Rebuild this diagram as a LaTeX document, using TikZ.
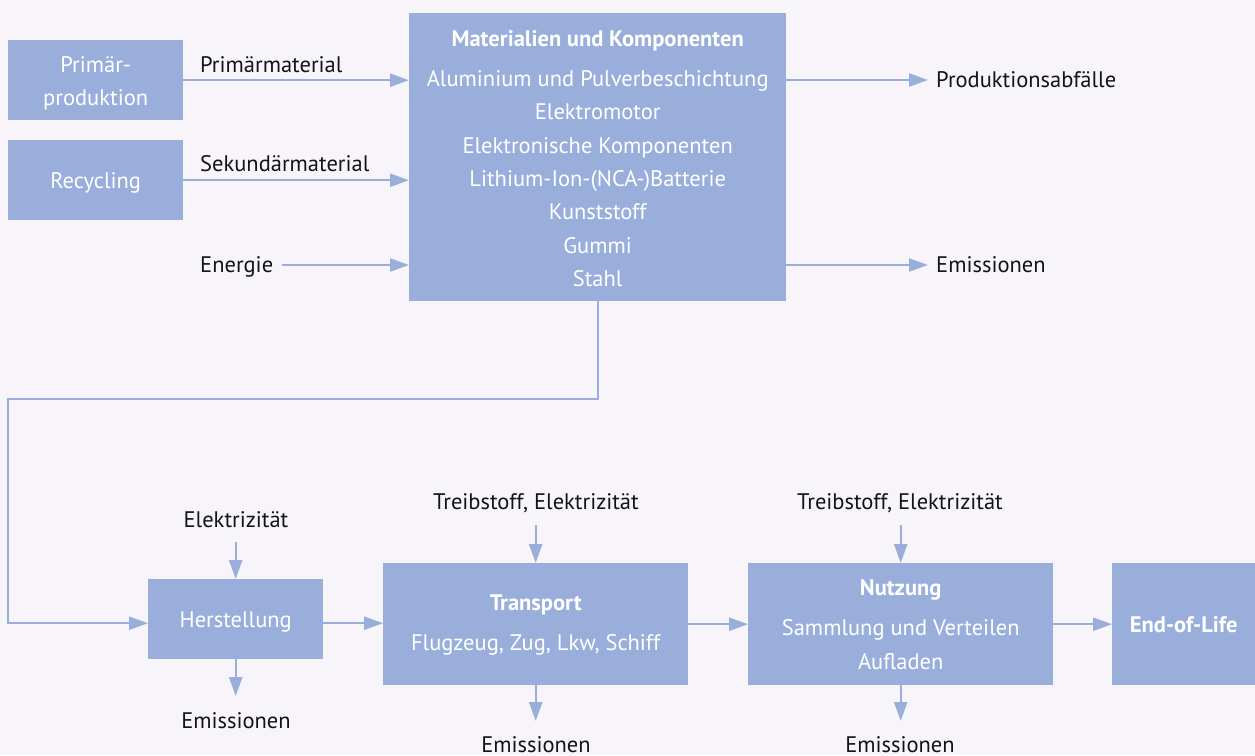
\documentclass[tikz,border=0pt]{standalone}
\usepackage{fontspec}
\setmainfont{PT Sans}
\usetikzlibrary{arrows.meta}
\definecolor{bg}{RGB}{248,245,250}
\definecolor{boxc}{RGB}{153,174,219}
\definecolor{txt}{RGB}{20,20,20}
\tikzset{
  every node/.style={font=\fontsize{22.5}{33.4}\selectfont, inner sep=0pt},
  blk/.style={fill=boxc, anchor=north west},
  btxt/.style={text=white, align=center},
  lbl/.style={text=txt},
  arr/.style={draw=boxc, line width=2.4pt, -{Triangle[length=19pt,width=13pt]}}
}
\begin{document}
\begin{tikzpicture}[x=1pt,y=-1pt]
\fill[bg] (0,0) rectangle (1255,755);
\useasboundingbox (0,0) rectangle (1255,755);
% top boxes
\node[blk, minimum width=175pt, minimum height=80pt,
  label={[btxt,yshift=-3pt]center:{Primär-\\produktion}}] (prim) at (8,40) {};
\node[blk, minimum width=175pt, minimum height=80pt,
  label={[btxt,yshift=-3pt]center:{Recycling}}] (rec) at (8,140) {};
\node[blk, minimum width=377pt, minimum height=288pt,
  label={[btxt,yshift=-1.5pt]center:{\textbf{Materialien und Komponenten}\\[6.6pt]
Aluminium und Pulverbeschichtung\\Elektromotor\\Elektronische Komponenten\\Lithium-Ion-(NCA-)Batterie\\Kunststoff\\Gummi\\Stahl}}] (mat) at (409,13) {};
% labels top
\node[lbl, anchor=base west] (lprim) at (200,72) {Primärmaterial};
\node[lbl, anchor=base west] (lsek) at (200,171) {Sekundärmaterial};
\node[lbl, anchor=base west] (lener) at (200,272) {Energie};
\node[lbl, anchor=west] (labf) at (936,80) {Produktionsabfälle};
\node[lbl, anchor=west] (lem0) at (936,265) {Emissionen};
\draw[arr] (prim.east) -- (prim.east -| mat.west);
\draw[arr] (rec.east) -- (rec.east -| mat.west);
\draw[arr] (282,265) -- (mat.west |- 0,265);
\draw[arr] (mat.east |- labf.west) -- ([xshift=-8pt]labf.west);
\draw[arr] (mat.east |- lem0.west) -- ([xshift=-8pt]lem0.west);
% bottom boxes
\node[blk, minimum width=175pt, minimum height=80pt,
  label={[btxt,yshift=-3pt]center:{Herstellung}}] (herst) at (148,579) {};
\node[blk, minimum width=305pt, minimum height=122pt,
  label={[btxt,yshift=-1pt]center:{\textbf{Transport}\\[6.6pt]Flugzeug, Zug, Lkw, Schiff}}] (trans) at (383,563) {};
\node[blk, minimum width=305pt, minimum height=122pt,
  label={[btxt,yshift=-0.5pt]center:{\textbf{Nutzung}\\[6.6pt]Sammlung und Verteilen\\Aufladen}}] (nutz) at (748,563) {};
\node[blk, minimum width=143pt, minimum height=122pt,
  label={[btxt]center:{\textbf{End-of-Life}}}] (eol) at (1112,563) {};
% connector from materials
\coordinate (c1) at (8,399);
\draw[arr] (mat.south) |- (c1) |- ([yshift=-4pt]herst.west);
\draw[arr] ([yshift=-4pt]herst.east) -- ([yshift=-4pt]herst.east -| trans.west);
\draw[arr] (trans.east) -- (nutz.west);
\draw[arr] (nutz.east) -- (eol.west);
% inputs / outputs
\node[lbl] (elek) at (236,520) {Elektrizität};
\node[lbl] (em1) at (236,721) {Emissionen};
\node[lbl] (tr1) at (536,503) {Treibstoff, Elektrizität};
\node[lbl] (em2) at (536,745) {Emissionen};
\node[lbl] (tr2) at (900,503) {Treibstoff, Elektrizität};
\node[lbl] (em3) at (900,745) {Emissionen};
\draw[arr] (herst.north |- 0,542) -- (herst.north);
\draw[arr] (herst.south) -- (herst.south |- 0,696);
\draw[arr] (trans.north |- 0,525) -- (trans.north);
\draw[arr] (trans.south) -- (trans.south |- 0,721);
\draw[arr] (nutz.north |- 0,525) -- (nutz.north);
\draw[arr] (nutz.south) -- (nutz.south |- 0,721);
\end{tikzpicture}
\end{document}
